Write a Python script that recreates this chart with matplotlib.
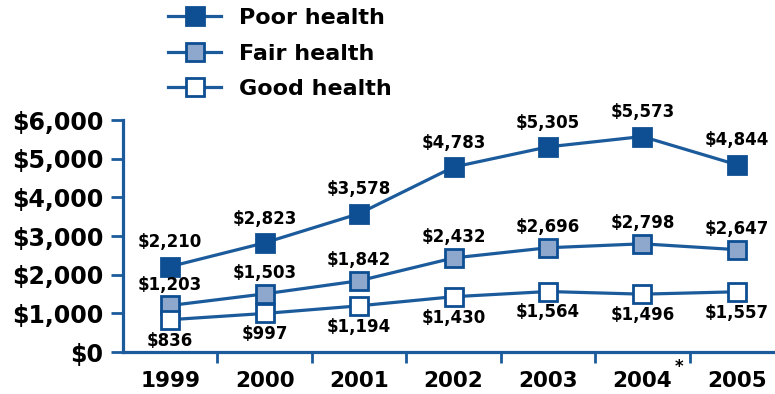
import matplotlib
matplotlib.use("Agg")
import matplotlib.pyplot as plt
from matplotlib.ticker import FixedLocator, FuncFormatter

years = ["1999", "2000", "2001", "2002", "2003", "2004", "2005"]
poor_health = [2210, 2823, 3578, 4783, 5305, 5573, 4844]
fair_health = [1203, 1503, 1842, 2432, 2696, 2798, 2647]
good_health = [836, 997, 1194, 1430, 1564, 1496, 1557]
y_ticks = [0, 1000, 2000, 3000, 4000, 5000, 6000]

BLUE = "#1c5b9b"
DARK = "#0e4f93"
LIGHT = "#8ea8cd"

plt.rcParams["font.family"] = ["DejaVu Sans"]
plt.rcParams["font.weight"] = "bold"

fig = plt.figure(figsize=(7.75, 3.94), dpi=100)
ax = fig.add_axes([123 / 775, 42 / 394, 661 / 775, 232 / 394])

x = list(range(len(years)))
style = dict(color=BLUE, lw=2.3, marker="s", markersize=12.5, markeredgewidth=2, markeredgecolor=DARK)
ax.plot(x, poor_health, markerfacecolor=DARK, label="Poor health", **style)
ax.plot(x, fair_health, markerfacecolor=LIGHT, label="Fair health", **style)
ax.plot(x, good_health, markerfacecolor="white", label="Good health", **style)

def money(v):
    return f"${v:,.0f}"

# value labels: poor and fair above the markers, good below
for xi, v in zip(x, poor_health):
    ax.annotate(money(v), (xi, v), xytext=(0, 17.5), textcoords="offset points",
                ha="center", va="center", fontsize=12, fontweight="bold")
for xi, v in zip(x, fair_health):
    ax.annotate(money(v), (xi, v), xytext=(0, 15), textcoords="offset points",
                ha="center", va="center", fontsize=12, fontweight="bold")
for xi, v in zip(x, good_health):
    ax.annotate(money(v), (xi, v), xytext=(0, -15), textcoords="offset points",
                ha="center", va="center", fontsize=12, fontweight="bold")

ax.set_xlim(-0.5, 6.5)
ax.set_ylim(0, 6000)
ax.set_yticks(y_ticks)
ax.yaxis.set_major_formatter(FuncFormatter(lambda v, p: money(v)))
ax.set_xticks(x)
ax.set_xticklabels(years)
ax.xaxis.set_minor_locator(FixedLocator([i + 0.5 for i in range(len(years) - 1)]))

ax.tick_params(axis="x", which="major", length=0, pad=14, labelsize=15.5)
ax.tick_params(axis="x", which="minor", length=8, width=2, color=BLUE)
ax.tick_params(axis="y", length=9, width=2, color=BLUE, pad=5, labelsize=17)
for lab in ax.get_xticklabels() + ax.get_yticklabels():
    lab.set_fontweight("bold")

for side in ("top", "right"):
    ax.spines[side].set_visible(False)
for side in ("left", "bottom"):
    ax.spines[side].set_color(BLUE)
    ax.spines[side].set_linewidth(2.3)

# footnote mark on 2004
ax.annotate("*", xy=(5, 0), xycoords=("data", "axes fraction"), xytext=(23, -11),
            textcoords="offset points", ha="left", va="center", fontsize=12, fontweight="bold")

fig.legend(loc="upper left", bbox_to_anchor=(168 / 775, 1 - 8 / 394), frameon=False,
           handlelength=2.4, handletextpad=0.8, labelspacing=0.7,
           borderpad=0, borderaxespad=0, prop={"weight": "bold", "size": 16})

fig.savefig("out.png", dpi=100)
